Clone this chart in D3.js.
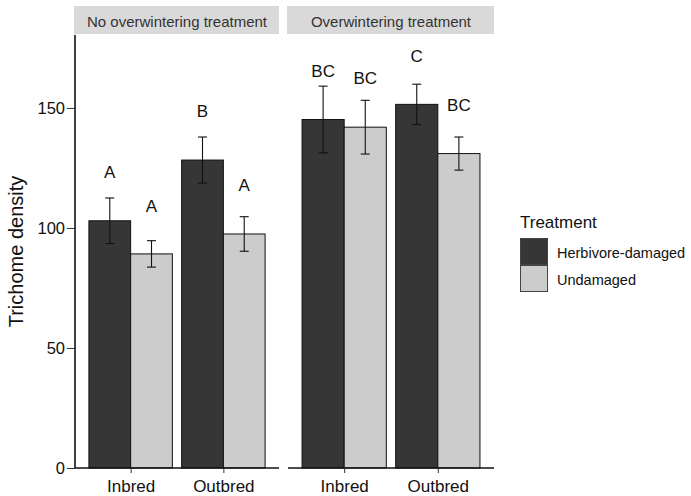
<!DOCTYPE html>
<html>
<head>
<meta charset="utf-8">
<script src="https://cdn.jsdelivr.net/npm/d3@7"></script>
<style>
  html, body { margin: 0; padding: 0; background: #fff; }
  svg { display: block; font-family: "Liberation Sans", Arial, sans-serif; }
</style>
</head>
<body>
<svg id="chart" width="691" height="496"></svg>
<script>
// Trichome density by genotype, damage treatment and overwintering facet
const panels = ["No overwintering treatment", "Overwintering treatment"];
const genotypes = ["Inbred", "Outbred"];
const treatments = ["Herbivore-damaged", "Undamaged"];
const yTicks = [0, 50, 100, 150];

// means[panel][genotype][treatment]
const means = [
  [[103.0, 89.2], [128.3, 97.5]],
  [[145.2, 142.0], [151.5, 131.0]]
];
// standard errors, same layout
const errors = [
  [[9.5, 5.5], [9.6, 7.2]],
  [[13.9, 11.2], [8.4, 6.9]]
];
// significance letters and the height they sit at
const letters = [
  [["A", "A"], ["B", "A"]],
  [["BC", "BC"], ["C", "BC"]]
];
const letterY = [
  [[120.8, 106.7], [146.3, 115.4]],
  [[163.0, 160.0], [169.2, 148.8]]
];

const fills = ["#363636", "#cccccc"];
const fontFamily = "'Liberation Sans', Arial, sans-serif";

const svg = d3.select("#chart");
const plotTop = 35, plotBottom = 468;
const panelX = [[75, 279], [288, 494]];

const y = d3.scaleLinear().domain([0, 180.4]).range([plotBottom, plotTop]);
const fill = d3.scaleOrdinal().domain(treatments).range(fills);

panels.forEach((pName, p) => {
  const [x0, x1] = panelX[p];
  // discrete axis with 0.6 expansion on each side
  const x = d3.scaleLinear().domain([0.4, genotypes.length + 0.6]).range([x0, x1]);
  const g = svg.append("g");

  // strip
  g.append("rect")
    .attr("x", x0 - 1).attr("y", 6)
    .attr("width", x1 - x0 + 1).attr("height", 28)
    .attr("fill", "#d9d9d9");
  g.append("text")
    .attr("x", (x0 + x1) / 2).attr("y", 27)
    .attr("text-anchor", "middle")
    .attr("font-size", 15).attr("fill", "#333")
    .text(pName);

  const barW = 0.45;
  genotypes.forEach((gen, gi) => {
    treatments.forEach((tr, ti) => {
      const cx = gi + 1 + (ti === 0 ? -barW / 2 : barW / 2);
      const m = means[p][gi][ti];
      g.append("rect")
        .attr("x", x(cx - barW / 2)).attr("y", y(m))
        .attr("width", x(cx + barW / 2) - x(cx - barW / 2))
        .attr("height", y(0) - y(m))
        .attr("fill", fill(tr)).attr("stroke", "#111").attr("stroke-width", 1);
    });
  });

  // error bars and letters on top of bars
  genotypes.forEach((gen, gi) => {
    treatments.forEach((tr, ti) => {
      const cx = gi + 1 + (ti === 0 ? -barW / 2 : barW / 2);
      const m = means[p][gi][ti], se = errors[p][gi][ti];
      const px = x(cx);
      const capHalf = 4.5;
      const eb = g.append("g").attr("stroke", "#111").attr("stroke-width", 1.1);
      eb.append("line").attr("x1", px).attr("x2", px).attr("y1", y(m + se)).attr("y2", y(m - se));
      eb.append("line").attr("x1", px - capHalf).attr("x2", px + capHalf).attr("y1", y(m + se)).attr("y2", y(m + se));
      eb.append("line").attr("x1", px - capHalf).attr("x2", px + capHalf).attr("y1", y(m - se)).attr("y2", y(m - se));
      g.append("text")
        .attr("x", px).attr("y", y(letterY[p][gi][ti]))
        .attr("text-anchor", "middle")
        .attr("font-size", 17).attr("fill", "#111")
        .text(letters[p][gi][ti]);
    });
  });

  // x axis
  const xAxis = d3.axisBottom(x)
    .tickValues(genotypes.map((d, i) => i + 1))
    .tickFormat((d) => genotypes[d - 1])
    .tickSize(5).tickSizeOuter(0);
  const ax = g.append("g").attr("transform", `translate(0,${plotBottom})`).call(xAxis);
  ax.select(".domain").attr("stroke", "#111").attr("stroke-width", 1.6)
    .attr("d", `M${x0},0H${x1}`);
  ax.selectAll(".tick line").attr("stroke", "#333");
  ax.selectAll(".tick text")
    .attr("font-size", 17).attr("fill", "#111")
    .attr("dy", 0).attr("y", 24)
    .attr("font-family", fontFamily);

  if (p === 0) {
    const yAxis = d3.axisLeft(y).tickValues(yTicks).tickSize(8).tickSizeOuter(0);
    const ay = g.append("g").attr("transform", `translate(${x0},0)`).call(yAxis);
    ay.select(".domain").attr("stroke", "#111").attr("stroke-width", 1.6)
      .attr("d", `M0,${plotTop}V${plotBottom}`);
    ay.selectAll(".tick line").attr("stroke", "#333");
    ay.selectAll(".tick text")
      .attr("font-size", 16.5).attr("fill", "#111").attr("x", -10)
      .attr("font-family", fontFamily);
  }
});

// y axis title
svg.append("text")
  .attr("transform", `translate(23,${(plotTop + plotBottom) / 2}) rotate(-90)`)
  .attr("text-anchor", "middle")
  .attr("font-size", 20).attr("fill", "#111")
  .text("Trichome density");

// legend
const lg = svg.append("g");
lg.append("text").attr("x", 520).attr("y", 228)
  .attr("font-size", 17).attr("fill", "#111").text("Treatment");
treatments.forEach((tr, i) => {
  const ky = 238 + i * 27;
  lg.append("rect").attr("x", 520.5).attr("y", ky + 0.5)
    .attr("width", 27).attr("height", 26)
    .attr("fill", fill(tr)).attr("stroke", "#444").attr("stroke-width", 1);
  lg.append("text").attr("x", 557).attr("y", ky + 20)
    .attr("font-size", 14.5).attr("fill", "#111").text(tr);
});
</script>
</body>
</html>
